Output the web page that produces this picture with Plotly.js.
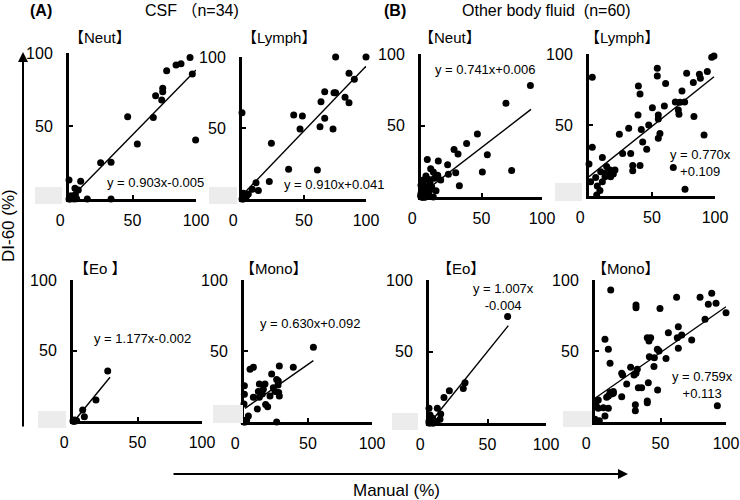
<!DOCTYPE html>
<html><head><meta charset="utf-8">
<script src="https://cdn.plot.ly/plotly-3.0.1.min.js"></script>
<style>body{margin:0;background:#fff}#chart{width:740px;height:500px}</style>
</head><body><div id="chart"></div>
<script>
// ---------- DATA (values in %) ----------
const aNeutX = [95.3,88.2,84.3,76.9,97.1,73.8,73.8,68.2,73.0,46.2,66.4,99.7,53.8,24.9,33.1,0,9.2,4.7,7.3,0.8,3.4,6.0,14.4,33.1,1,2,0,2,5,3,1,0.5,1.5,4];
const aNeutY = [97.0,92.7,91.8,87.9,85.6,75.8,73.5,70.8,67.8,56.4,55.9,40.4,37.7,24.9,25.1,13.0,12.1,7.3,6.2,0.9,0.5,0.2,0,0,0,1,0,2,3,1,2,0.5,1.5,0];
const aNeutFitX = [1.5,100];
const aNeutFitY = [0.8,88.4];

const aLymphX = [75.5,100,86.3,90.6,66.7,74.2,75.5,83.1,63.7,86.3,0,41.7,48.7,66.7,46.8,62.9,73.4,23.7,37.6,60.8,22.0,11.3,13.2,8.3,5.1,1.1,0.5,3.8,2.4,1,2,0,3,1.5];
const aLymphY = [100,100,88.5,84.3,75.6,74.9,74.9,71.6,68.5,67.8,60.8,59.2,58.5,56.8,49.3,50.9,49.3,39.2,20.9,20.4,12.4,11.5,5.9,6.8,3.5,4.0,1.6,2.3,0.5,0,1,0,1,2];
const aLymphFitX = [0.5,100];
const aLymphFitY = [3,93.5];

const bNeutX = [90.4,70.2,46.6,37.7,27.3,30.6,54.8,5.2,14.3,22.0,8.0,74.9,50.7,28.7,10.2,4.1,13.8,22.6,16.3,7.4,11.0,31.7,0,1.9,5.2,12.4,10.2,0,0.6,3.3,1.9,6.1,0,4.1,7.4,8.8,1.9,6.1,12.9,1,2,3,0.5,0,1,2.5,4,5,0,1.5,3,6,2,1,0,3.5,2.5,1,0.5,2];
const bNeutY = [77.9,65.5,44.1,37.5,33.3,30.1,29.6,26.3,25.2,22.6,19.8,18.6,17.5,17.0,17.5,14.7,15.2,15.9,11.9,10.3,13.1,7.9,8.2,9.6,7.2,4.4,0,2.6,4.4,6.1,1.4,2.6,0.2,0.2,4.9,7.2,11.9,12.4,14.2,0,1,0.5,2,1,3,1.5,2,1,0.5,0,0,1,0.5,2,1,0,1,0.5,0,0];
const bNeutFitX = [0,90.9];
const bNeutFitY = [2,61.3];

const bLymphX = [99.2,97.4,93.9,87.6,88.4,77.5,82.8,54.2,54.2,60.8,39.2,40.5,2.6,73.8,75.9,68.5,72.2,70.9,71.4,59.8,50.3,83.3,55.0,55.0,38.9,47.4,31.5,41.5,24.1,56.3,55.0,91.3,42.6,2.6,45.8,33.1,26.7,34.7,34.7,40.5,10.6,66.9,0,76.2,1.3,6.6,5.3,9.3,10.6,14.0,14.6,17.2,18.5,20.6,19.3,16.7,8.7,6.1,14.0,12.7];
const bLymphY = [98.6,97.7,87.6,85.7,82.9,86.4,80.0,89.9,84.5,79.3,77.5,71.8,83.6,73.9,66.2,66.2,66.0,60.6,57.5,63.4,62.2,55.9,57.0,54.2,57.0,50.0,47.7,46.9,43.4,44.1,40.6,43.0,38.0,34.3,32.9,30.0,30.0,21.4,17.8,21.4,27.2,20.0,22.5,4.7,10.1,7.0,13.1,17.1,10.1,20.7,15.5,13.6,17.1,18.3,15.5,18.3,3.8,0.7,16.4,13.6];
const bLymphFitX = [0,99.2];
const bLymphFitY = [13.6,84.0];

const aEoX = [26.9,17.8,7.5,8.8,1.6,0.3,2.8,0.8,0,1,2,0.5];
const aEoY = [35.5,14.9,7.8,3.1,0,0,0.2,0.7,0,0,0.5,0];
const aEoFitX = [1.6,28.7];
const aEoFitY = [0.7,31.0];

const aMonoX = [54.2,27.6,38.5,4.7,7.3,21.6,25.5,12.0,16.4,0.3,0.3,11.2,15.1,22.9,26.6,26.8,7.3,12.0,14.3,27.1,27.6,0,10.4,16.9,18.5,3.4,2.1,0.8,25.5,20.3,24.2,0,1,0.5];
const aMonoY = [52.6,39.4,38.5,37.1,38.5,33.8,30.0,26.8,26.8,25.6,19.5,21.4,23.0,24.2,26.1,28.9,17.4,17.4,19.7,20.7,18.3,12.7,9.2,12.4,10.8,4.2,1.4,0,0,18.3,21.4,0,0.5,1];
const aMonoFitX = [0.8,54.2];
const aMonoFitY = [9.6,43.2];

const bEoX = [67.2,30.8,29.3,17.4,12.8,0,7.1,10.0,0.9,3.1,0,0.9,3.7,9.4,6.6,2.3,1,2,0,4,5,1.5,0.5,3];
const bEoY = [74.4,28.2,24.2,22.6,17.9,10.3,10.3,6.3,5.6,3.3,1.4,0.5,0.5,2.6,0.9,2.1,0,1,0,0,1,0.5,2,0];
const bEoFitX = [5.1,67.8];
const bEoFitY = [4.4,68.1];

const bMonoX = [12.0,89.1,80.2,62.3,86.5,92.4,31.3,31.3,49.6,100,84.0,63.6,56.0,66.2,62.8,73.8,39.9,42.5,41.2,7.6,10.2,63.6,47.6,48.9,11.5,41.5,45.3,54.2,27.2,32.3,20.4,21.1,31.3,29.8,45.0,33.1,35.6,40.7,47.8,24.2,39.9,39.9,30.8,30.8,20.4,93.4,11.5,10.2,12.7,14.0,8.9,2.5,0.8,6.4,2.5,10.2,7.6,0,3.3,14.0];
const bMonoY = [93.0,90.6,87.8,87.8,82.9,83.6,82.4,80.5,80.0,77.0,72.3,67.1,62.9,61.3,59.4,57.7,59.4,59.4,57.0,58.2,51.2,51.9,51.2,50.0,41.3,46.0,45.3,44.8,38.5,37.1,34.3,33.1,34.3,33.1,39.0,24.2,24.2,27.7,22.5,26.8,14.8,13.6,12.2,8.0,17.8,11.5,20.7,18.3,19.7,20.2,17.4,15.5,12.0,10.1,9.6,9.6,4.2,1.9,0.9,21.4];
const bMonoFitX = [0,100];
const bMonoFitY = [16.7,81.2];

const panelTitles = ['【Neut】','【Lymph】','【Neut】','【Lymph】','【Eo 】','【Mono】','【Eo】','【Mono】'];
const equations = ['y = 0.903x-0.005','y = 0.910x+0.041','y = 0.741x+0.006','y = 0.770x<br>+0.109','y = 1.177x-0.002','y = 0.630x+0.092','y = 1.007x<br>-0.004','y = 0.759x<br>+0.113'];
const tickX = [0,50,100];
const tickXText = ['0\u00a0\u00a0\u00a0\u00a0','50','100'];
const tickY = [50,100];

// ---------- LAYOUT ----------
const W=740,H=500;
const PX=x=>x/W, PY=y=>1-y/H;
const FONT='Liberation Sans, Arial, Noto Sans CJK JP, sans-serif';

const panels = [
 {x:aNeutX,y:aNeutY,fx:aNeutFitX,fy:aNeutFitY, dom:[69,196,53,199], title:[67,38], eq:[105,182,'left'], box:[35,62,187,204]},
 {x:aLymphX,y:aLymphY,fx:aLymphFitX,fy:aLymphFitY, dom:[242,366,57,199], title:[240,38], eq:[282,184,'left'], box:[209,237,187,204]},
 {x:bNeutX,y:bNeutY,fx:bNeutFitX,fy:bNeutFitY, dom:[421,542,54,197], title:[417,38], eq:[433,69,'left'], box:null},
 {x:bLymphX,y:bLymphY,fx:bLymphFitX,fy:bLymphFitY, dom:[589,715,54,196], title:[583,38], eq:[700,163,'center'], box:[555,582,183,201]},
 {x:aEoX,y:aEoY,fx:aEoFitX,fy:aEoFitY, dom:[73,202,280,421], title:[72,268], eq:[92,338,'left'], box:[38,66,411,428]},
 {x:aMonoX,y:aMonoY,fx:aMonoFitX,fy:aMonoFitY, dom:[244,372,280,422], title:[238,268], eq:[258,323,'left'], box:[213,243,405,423]},
 {x:bEoX,y:bEoY,fx:bEoFitX,fy:bEoFitY, dom:[429,546,280,423], title:[435,268], eq:[503,297,'center'], box:[392,418,413,430]},
 {x:bMonoX,y:bMonoY,fx:bMonoFitX,fy:bMonoFitY, dom:[595,726,280,422], title:[590,268], eq:[702,385,'center'], box:[563,592,411,427]}
];

const traces=[];
const layout={width:W,height:H,margin:{l:0,r:0,t:0,b:0},paper_bgcolor:'#fff',plot_bgcolor:'rgba(0,0,0,0)',showlegend:false,annotations:[],shapes:[]};

panels.forEach((p,i)=>{
  const n=i+1, xa='x'+(n===1?'':n), ya='y'+(n===1?'':n);
  traces.push({type:'scatter',mode:'lines',x:p.fx,y:p.fy,xaxis:xa,yaxis:ya,line:{color:'#000',width:1.4},hoverinfo:'skip'});
  traces.push({type:'scatter',mode:'markers',x:p.x,y:p.y,xaxis:xa,yaxis:ya,marker:{size:7,color:'#000'},cliponaxis:false});
  const common={range:[0,100],showline:true,linewidth:3,linecolor:'#000',ticks:'inside',ticklen:4,tickwidth:2,tickcolor:'#000',showgrid:false,zeroline:false,fixedrange:true,tickfont:{family:FONT,size:16,color:'#000'}};
  layout['xaxis'+(n===1?'':n)]=Object.assign({},common,{domain:[PX(p.dom[0]),PX(p.dom[1])],anchor:ya,tickvals:tickX,ticktext:tickXText,ticklabelstandoff:5});
  layout['yaxis'+(n===1?'':n)]=Object.assign({},common,{domain:[PY(p.dom[3]),PY(p.dom[2])],anchor:xa,tickvals:tickY,ticklabelstandoff:10});
  layout.annotations.push({xref:'paper',yref:'paper',x:PX(p.title[0]),y:PY(p.title[1]),xanchor:'left',yanchor:'middle',showarrow:false,text:panelTitles[i],font:{family:FONT,size:15,color:'#000'}});
  layout.annotations.push({xref:'paper',yref:'paper',x:PX(p.eq[0]),y:PY(p.eq[1]),xanchor:p.eq[2],yanchor:'middle',align:'center',showarrow:false,text:equations[i],font:{family:FONT,size:13,color:'#000'}});
  if(p.box) layout.shapes.push({type:'rect',xref:'paper',yref:'paper',x0:PX(p.box[0]),x1:PX(p.box[1]),y0:PY(p.box[3]),y1:PY(p.box[2]),fillcolor:'#ececec',line:{width:0},layer:'above'});
});

// headings
layout.annotations.push({xref:'paper',yref:'paper',x:PX(28),y:PY(10),xanchor:'left',yanchor:'middle',showarrow:false,text:'<b>(A)</b>',font:{family:FONT,size:16,color:'#000'}});
layout.annotations.push({xref:'paper',yref:'paper',x:PX(143),y:PY(10),xanchor:'left',yanchor:'middle',showarrow:false,text:'CSF （n=34)',font:{family:FONT,size:16,color:'#000'}});
layout.annotations.push({xref:'paper',yref:'paper',x:PX(382),y:PY(10),xanchor:'left',yanchor:'middle',showarrow:false,text:'<b>(B)</b>',font:{family:FONT,size:16,color:'#000'}});
layout.annotations.push({xref:'paper',yref:'paper',x:PX(460),y:PY(10),xanchor:'left',yanchor:'middle',showarrow:false,text:'Other body fluid  (n=60)',font:{family:FONT,size:16,color:'#000'}});
// big axes arrows and titles
layout.annotations.push({xref:'paper',yref:'paper',x:PX(23),y:PY(52),ax:0,ay:376,showarrow:true,arrowhead:2,arrowsize:1,arrowwidth:2,arrowcolor:'#000',text:''});
layout.annotations.push({xref:'paper',yref:'paper',x:PX(628),y:PY(474),ax:-456,ay:0,showarrow:true,arrowhead:2,arrowsize:1,arrowwidth:2,arrowcolor:'#000',text:''});
layout.annotations.push({xref:'paper',yref:'paper',x:PX(9),y:PY(226),xanchor:'center',yanchor:'middle',textangle:-90,showarrow:false,text:'DI-60 (%)',font:{family:FONT,size:17,color:'#000'}});
layout.annotations.push({xref:'paper',yref:'paper',x:PX(397),y:PY(490),xanchor:'center',yanchor:'middle',showarrow:false,text:'Manual (%)',font:{family:FONT,size:17,color:'#000'}});

Plotly.newPlot('chart',traces,layout,{staticPlot:true,displayModeBar:false});
</script></body></html>
